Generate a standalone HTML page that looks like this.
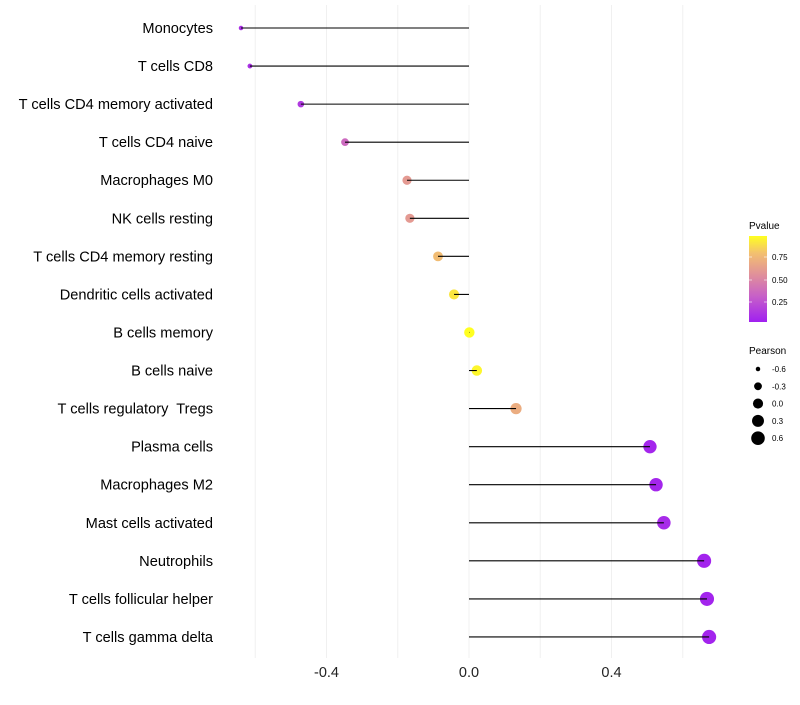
<!DOCTYPE html>
<html><head><meta charset="utf-8"><style>
body{margin:0;background:#fff;font-family:"Liberation Sans",sans-serif}
text{white-space:pre}
</style></head><body>
<svg id="chart" width="800" height="700" xmlns="http://www.w3.org/2000/svg">
<defs><linearGradient id="pg" x1="0" y1="1" x2="0" y2="0">
<stop offset="0" stop-color="#a020f0"/><stop offset="0.3" stop-color="#c760c8"/><stop offset="0.55" stop-color="#e0909a"/><stop offset="0.8" stop-color="#f3c070"/><stop offset="1" stop-color="#ffff20"/></linearGradient></defs>
<g id="grid"></g><g id="points"></g><g id="marks"></g><g id="ylabels"></g><g id="xlabels"></g>
<g font-size="10">
<text x="749" y="229" fill="#000">Pvalue</text>
<rect x="749" y="236" width="18" height="86" fill="url(#pg)"/>
<line x1="749" y1="257" x2="752" y2="257" stroke="#fff" stroke-opacity="0.6"/><line x1="764" y1="257" x2="767" y2="257" stroke="#fff" stroke-opacity="0.6"/>
<line x1="749" y1="280" x2="752" y2="280" stroke="#fff" stroke-opacity="0.6"/><line x1="764" y1="280" x2="767" y2="280" stroke="#fff" stroke-opacity="0.6"/>
<line x1="749" y1="302" x2="752" y2="302" stroke="#fff" stroke-opacity="0.6"/><line x1="764" y1="302" x2="767" y2="302" stroke="#fff" stroke-opacity="0.6"/>
<text x="772" y="260" font-size="8">0.75</text><text x="772" y="283" font-size="8">0.50</text><text x="772" y="305" font-size="8">0.25</text>
</g>
<g id="sizeleg" font-size="10">
<text x="749" y="354">Pearson</text>
</g>
</svg>
<script>
const categories=["Monocytes","T cells CD8","T cells CD4 memory activated","T cells CD4 naive","Macrophages M0","NK cells resting","T cells CD4 memory resting","Dendritic cells activated","B cells memory","B cells naive","T cells regulatory  Tregs","Plasma cells","Macrophages M2","Mast cells activated","Neutrophils","T cells follicular helper","T cells gamma delta"];
const pearson=[-0.640,-0.615,-0.472,-0.348,-0.174,-0.166,-0.087,-0.042,0.001,0.022,0.132,0.508,0.525,0.547,0.660,0.668,0.674];
const pvalue=[0.08,0.08,0.12,0.35,0.6,0.6,0.78,0.92,1.0,0.97,0.7,0.03,0.03,0.05,0.02,0.02,0.02];
const xTicks=[-0.4,0.0,0.4];
const xGrid=[-0.6,-0.4,-0.2,0.0,0.2,0.4,0.6];
const legendVals=[-0.6,-0.3,0.0,0.3,0.6];
const NS="http://www.w3.org/2000/svg";
const x=v=>469+v*356.25;
const y=i=>28+i*38.06;
const pmin=Math.min(...pearson),pmax=Math.max(...pearson);
const r=v=>{const t=(v-pmin)/(pmax-pmin);return Math.sqrt(5+t*(50-5));};
const stops=[[0,[160,32,240]],[0.3,[199,96,200]],[0.55,[224,144,154]],[0.8,[243,192,112]],[1,[255,255,32]]];
const col=p=>{for(let k=1;k<stops.length;k++){if(p<=stops[k][0]){const a=stops[k-1],b=stops[k],t=(p-a[0])/(b[0]-a[0]);return "rgb("+a[1].map((c,j)=>Math.round(c+(b[1][j]-c)*t)).join(",")+")";}}return "rgb(255,255,32)";};
function mk(tag,attrs,parent){const e=document.createElementNS(NS,tag);for(const k in attrs)e.setAttribute(k,attrs[k]);document.getElementById(parent).appendChild(e);return e;}
xGrid.forEach(v=>{const l=mk("line",{x1:x(v),x2:x(v),y1:5,y2:658,stroke:"#f0f0f0","stroke-width":1},"grid");

});
xTicks.forEach(v=>{const t=mk("text",{x:x(v),y:677,"text-anchor":"middle","font-size":14.5,fill:"#222"},"xlabels");t.textContent=v.toFixed(1);

});
categories.forEach((c,i)=>{
const t=mk("text",{x:213,y:y(i)+5,"text-anchor":"end","font-size":14.6,fill:"#000"},"ylabels");t.textContent=c;


const d=mk("circle",{cx:x(pearson[i]),cy:y(i),r:r(pearson[i]),fill:col(pvalue[i])},"points");


const s=mk("line",{x1:x(0),x2:x(pearson[i]),y1:y(i),y2:y(i),stroke:"#000","stroke-width":1.1},"marks");


});
legendVals.forEach((v,k)=>{const cy=369+k*17.3;
const c=mk("circle",{cx:758,cy:cy,r:Math.sqrt(5+(v+0.6)/1.2*(46-5)),fill:"#000"},"sizeleg");


const t=mk("text",{x:772,y:cy+3,"font-size":8},"sizeleg");t.textContent=v.toFixed(1);

});
</script>
</body></html>
